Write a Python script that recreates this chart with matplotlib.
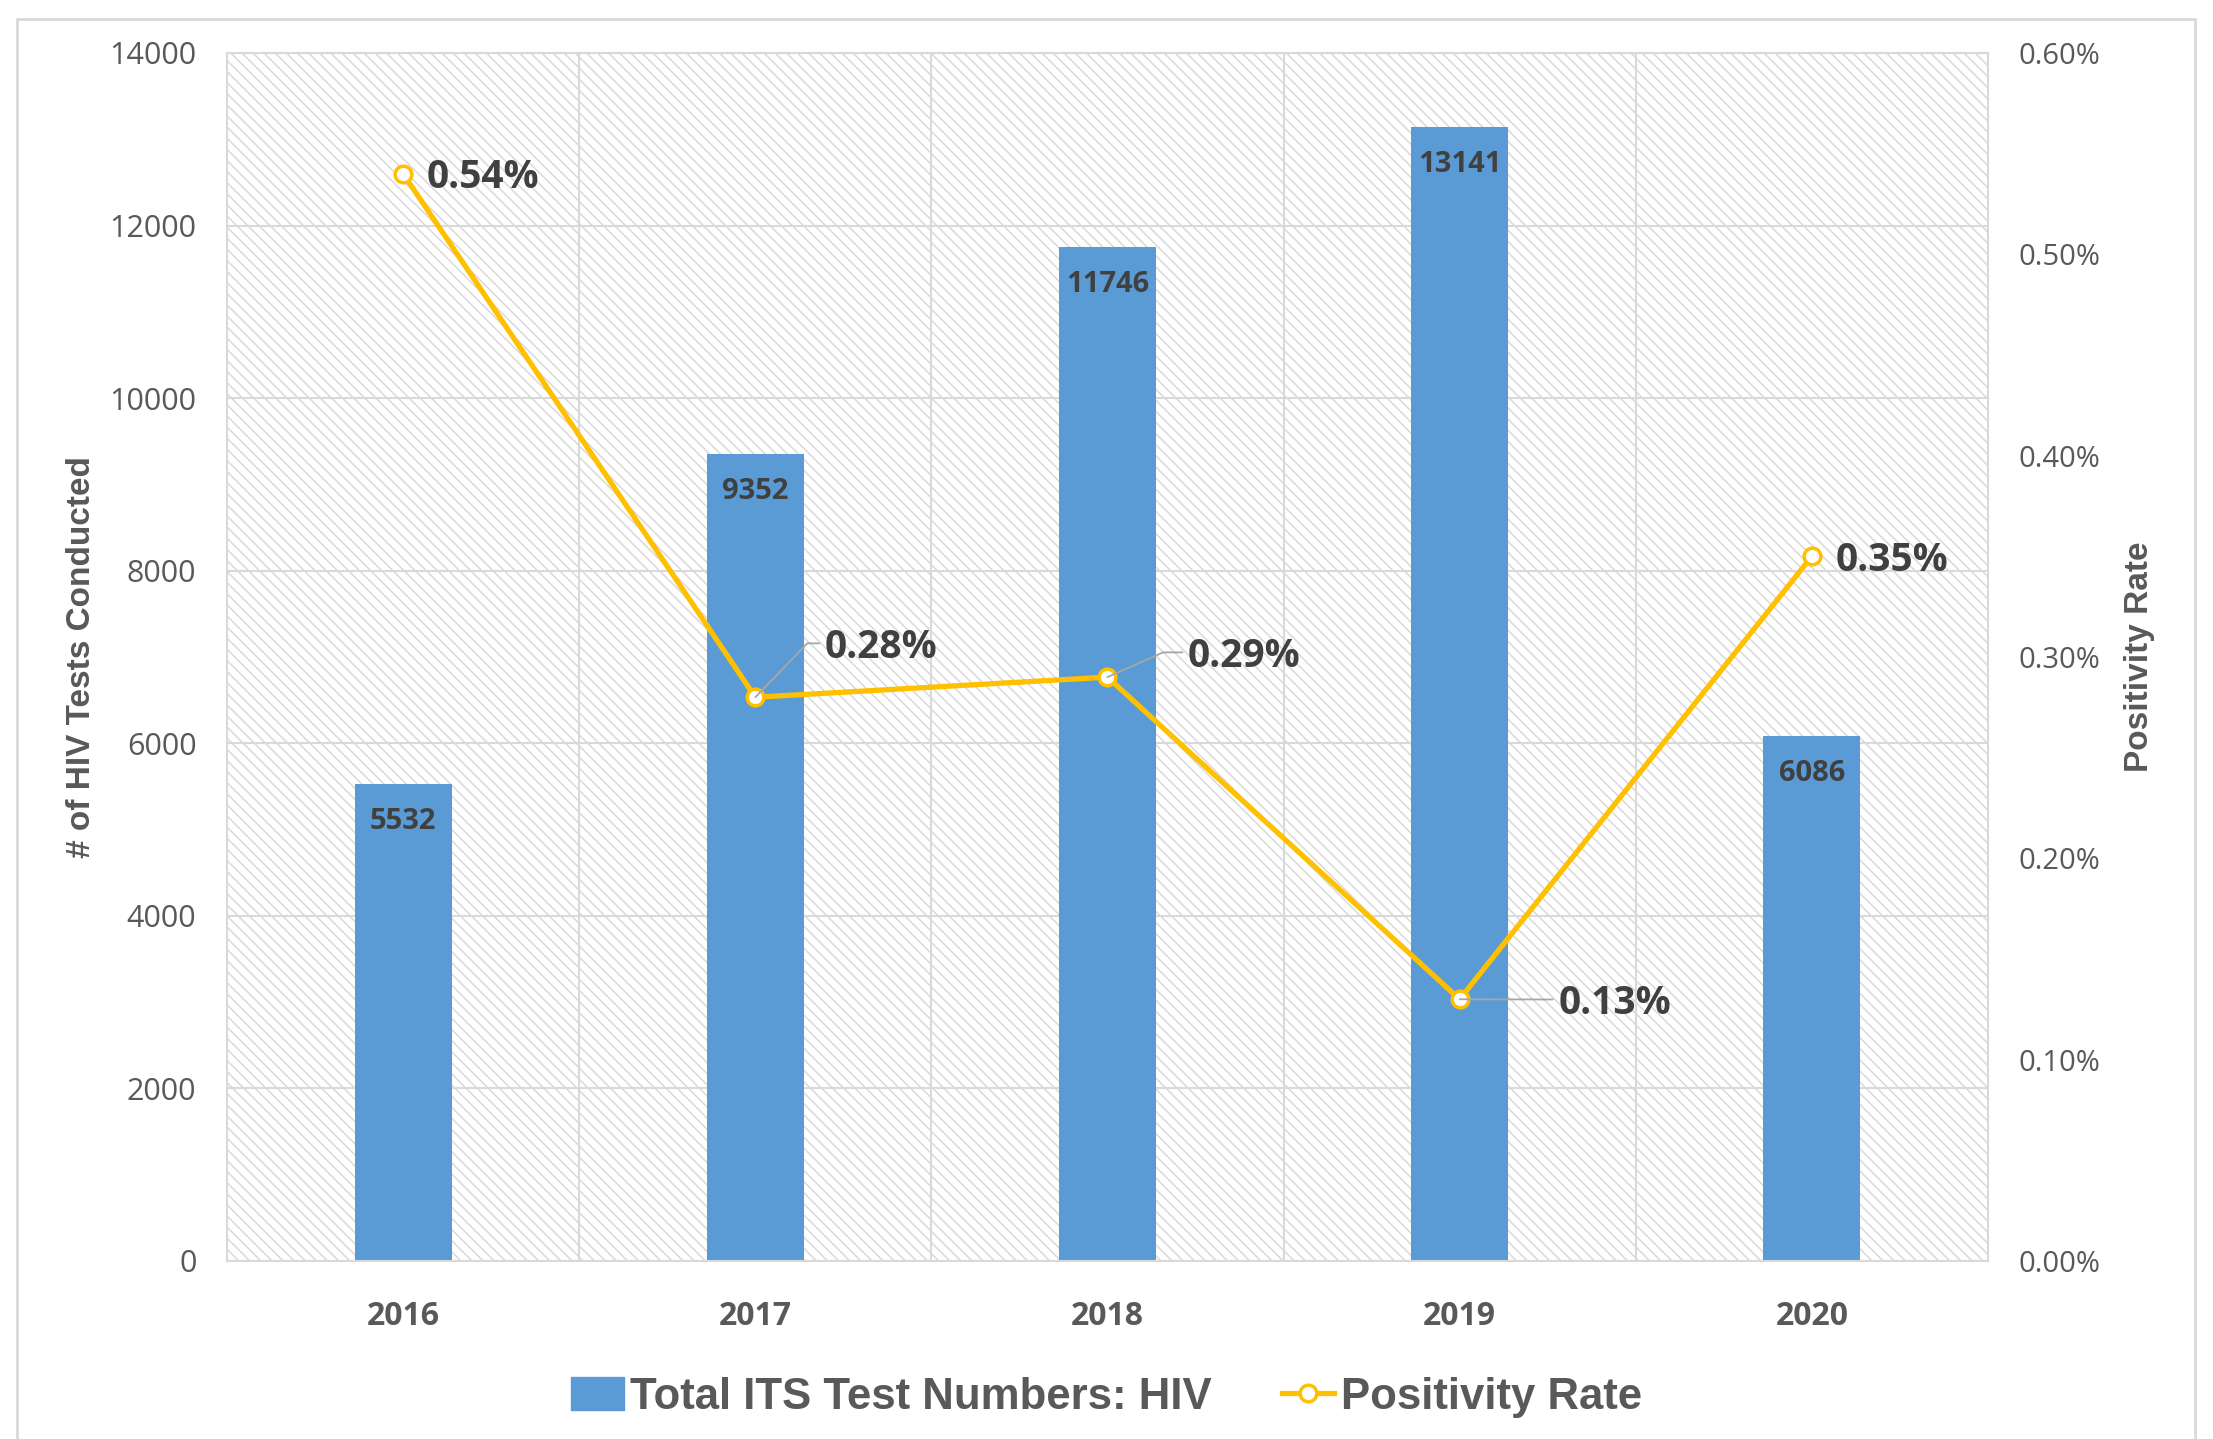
import matplotlib
matplotlib.use("Agg")
import matplotlib.pyplot as plt
from matplotlib.patches import Rectangle, Patch
from matplotlib.lines import Line2D
from matplotlib.ticker import FuncFormatter

# data
years = ["2016", "2017", "2018", "2019", "2020"]
tests = [5532, 9352, 11746, 13141, 6086]
rates = [0.54, 0.28, 0.29, 0.13, 0.35]   # percent

# label offsets (points) and leader angle per rate label, None = no leader
rate_offsets = [(17, -3), (50, 36), (58, 15), (71, -3), (17, -3)]
leader_angle = [None, 46, 24, 0, None]

BLUE = "#5B9BD5"
GOLD = "#FFC000"
GRID = "#D9D9D9"
TXT = "#595959"
DARK = "#404040"
NUM_FONT = ["Open Sans", "DejaVu Sans"]
NARROW = ["Liberation Sans", "DejaVu Sans"]

plt.rcParams["hatch.linewidth"] = 1.1
plt.rcParams["hatch.color"] = "#D9D9D9"

fig = plt.figure(figsize=(22.13, 14.39), dpi=100)
ax = fig.add_axes([0.1026, 0.1237, 0.7957, 0.8395])
ax2 = ax.twinx()

# hatched plot background
ax.add_patch(Rectangle((0, 0), 1, 1, transform=ax.transAxes, facecolor="white",
                       edgecolor="#D9D9D9", linewidth=0, hatch="\\\\\\", zorder=0))

x = list(range(len(years)))
bars = ax.bar(x, tests, width=0.275, color=BLUE, zorder=2)
for xi, v in zip(x, tests):
    ax.annotate(f"{v}", (xi, v), xytext=(0, -27), textcoords="offset points",
                ha="center", va="center", fontsize=21, fontweight="bold",
                color=DARK, family=NUM_FONT, zorder=3)

ax.set_xlim(-0.5, len(years) - 0.5)
ax.set_ylim(0, 14000)
ax.set_yticks(range(0, 14001, 2000))
ax.set_xticks(x)
ax.set_xticklabels(years, fontsize=23, fontweight="bold", color=TXT, family=NUM_FONT)
ax.set_xticks([i + 0.5 for i in x[:-1]], minor=True)
ax.tick_params(axis="x", which="both", length=0, pad=28)
ax.tick_params(axis="y", length=0, pad=22, labelsize=22, labelcolor=TXT)
for lab in ax.get_yticklabels():
    lab.set_family(NUM_FONT)
ax.set_axisbelow(True)
ax.grid(True, axis="y", color=GRID, linewidth=1.5, zorder=1)
ax.grid(True, axis="x", which="minor", color=GRID, linewidth=1.5, zorder=1)
for sp in ax.spines.values():
    sp.set_color(GRID)
    sp.set_linewidth(1.5)
for sp in ax2.spines.values():
    sp.set_visible(False)

ax.set_ylabel("# of HIV Tests Conducted", fontsize=24, fontweight="bold",
              color=TXT, family=NARROW, labelpad=9)

# positivity rate line
ax2.plot(x, rates, color=GOLD, linewidth=3.8, marker="o", markersize=12,
         markerfacecolor="white", markeredgecolor=GOLD, markeredgewidth=2.5, zorder=5)
ax2.set_ylim(0, 0.6)
ax2.set_yticks([i / 10 for i in range(7)])
ax2.yaxis.set_major_formatter(FuncFormatter(lambda v, p: f"{v:.2f}%"))
ax2.tick_params(axis="y", length=0, pad=22, labelsize=21, labelcolor=TXT)
for lab in ax2.get_yticklabels():
    lab.set_family(NUM_FONT)
ax2.set_ylabel("Positivity Rate", fontsize=24, fontweight="bold", color=TXT,
               family=NARROW, labelpad=17)

for xi, r, (dx, dy), ang in zip(x, rates, rate_offsets, leader_angle):
    kw = {}
    if ang is not None:
        style = "arc3" if ang == 0 else f"angle,angleA=0,angleB={ang},rad=0"
        kw["arrowprops"] = dict(arrowstyle="-", color="#A6A6A6", linewidth=1.3,
                                shrinkA=2, shrinkB=0, relpos=(0, 0.6),
                                connectionstyle=style)
    ax2.annotate(f"{r:.2f}%", (xi, r), xytext=(dx, dy), textcoords="offset points",
                 ha="left", va="center", fontsize=28, fontweight="bold",
                 color=DARK, family=NUM_FONT, zorder=6, **kw)

# legend
handles = [Patch(facecolor=BLUE, edgecolor=BLUE),
           Line2D([], [], color=GOLD, linewidth=3.8, marker="o", markersize=12,
                  markerfacecolor="white", markeredgecolor=GOLD, markeredgewidth=2.5)]
fig.legend(handles, ["Total ITS Test Numbers: HIV", "Positivity Rate"],
           loc="center", bbox_to_anchor=(0.5, 0.029), ncol=2, frameon=False,
           handlelength=1.2, handleheight=0.75, handletextpad=0.15, columnspacing=1.6,
           labelcolor=TXT, prop=dict(family=NARROW, weight="bold", size=31.5))

# outer chart border
fig.patches.append(Rectangle((0.0077, -0.01), 0.9842, 0.9968, transform=fig.transFigure,
                             fill=False, edgecolor=GRID, linewidth=2))

fig.savefig("out.png", dpi=100)
